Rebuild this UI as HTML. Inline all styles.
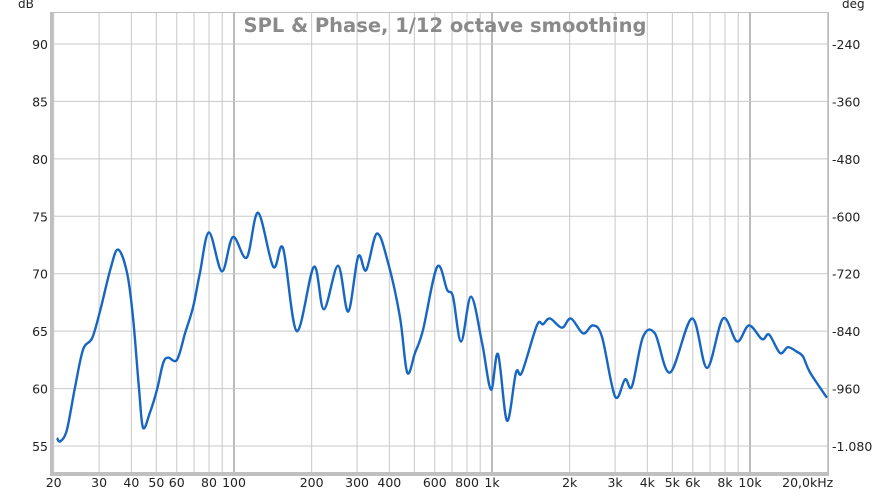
<!DOCTYPE html>
<html><head><meta charset="utf-8"><style>
body{margin:0;background:#fff;}
svg text{font-family:"DejaVu Sans","Liberation Sans",sans-serif;}
</style></head><body>
<svg id="chart" width="894" height="493" viewBox="0 0 894 493" xmlns="http://www.w3.org/2000/svg">
<rect x="0" y="0" width="894" height="493" fill="#fff"/>
<g id="grid"></g>
<g id="labels"></g>
<path id="curve" fill="none" stroke="#1766c2" stroke-width="2.4" stroke-linejoin="round"/>
<text x="445" y="32" text-anchor="middle" font-size="19.5" font-weight="bold" fill="#8a8a8a">SPL &amp; Phase, 1/12 octave smoothing</text>
<text x="18" y="8" font-size="12" fill="#222">dB</text>
<text x="842" y="8" font-size="12" fill="#222">deg</text>
</svg>
<script>
const freqs=[20.6,21.2,22.5,24.2,26.0,28.2,30.3,33.1,35.5,38.5,40.6,42.8,44.4,47.2,50.3,53.1,55.5,60.1,64.6,69.4,73.8,80,89.8,99,112,124,142,155,175,204,223,253,277,303,325,358,395,440,469,503,540,613,670,706,759,829,915,991,1055,1143,1239,1306,1493,1577,1679,1867,2023,2254,2460,2670,3000,3280,3490,3850,4280,4900,5960,6810,7860,8910,9910,11140,11860,13070,14030,15200,16040,17100,19870];
const spl=[55.7,55.4,56.4,60.1,63.4,64.4,66.8,70.3,72.1,70.1,66.2,60.1,56.6,57.9,59.9,62.2,62.7,62.5,64.8,67.1,70.1,73.6,70.2,73.2,71.4,75.3,70.6,72.2,65.0,70.6,66.9,70.7,66.7,71.5,70.3,73.5,71.0,66.2,61.4,63.1,65.1,70.6,68.6,68.0,64.1,68.0,64.0,59.9,63.0,57.2,61.4,61.4,65.5,65.6,66.1,65.3,66.1,64.8,65.5,64.5,59.3,60.8,60.2,64.5,64.8,61.4,66.1,61.8,66.1,64.1,65.5,64.3,64.7,63.1,63.6,63.2,62.8,61.4,59.2];
const dbTicks=[55,60,65,70,75,80,85,90];
const degTicks=["-1.080","-960","-840","-720","-600","-480","-360","-240"];
const xTicks=[20,30,40,50,60,80,100,200,300,400,600,800,1000,2000,3000,4000,5000,6000,8000,10000,20000];
const xTickLabels=["20","30","40","50","60","80","100","200","300","400","600","800","1k","2k","3k","4k","5k","6k","8k","10k","20,0kHz"];
const gridFreqs=[20,30,40,50,60,70,80,90,100,200,300,400,500,600,700,800,900,1000,2000,3000,4000,5000,6000,7000,8000,9000,10000,20000];
const L=54,R=828,T=13,B=472;
const X=f=>234+258*Math.log10(f/100);
const Y=d=>44+(90-d)*402/35;
const NS="http://www.w3.org/2000/svg";
const grid=document.getElementById('grid'),labels=document.getElementById('labels');
function mk(tag,at,parent){const e=document.createElementNS(NS,tag);for(const k in at)e.setAttribute(k,at[k]);parent.appendChild(e);return e;}
mk('rect',{x:L-4,y:T-1,width:R-L+5,height:B-T+5,fill:'#c0c0c0'},grid);
mk('rect',{x:L,y:T,width:R-L,height:B-T,fill:'#fff'},grid);
gridFreqs.forEach(f=>{
  const dec=(f===100||f===1000||f===10000);
  const l=mk('line',{x1:X(f),x2:X(f),y1:T,y2:B,stroke:dec?'#777':'#c8c8c8','stroke-width':1},grid);
  
  
});
dbTicks.forEach((d,i)=>{
  const l=mk('line',{x1:L,x2:R,y1:Y(d),y2:Y(d),stroke:'#c8c8c8','stroke-width':1},grid);
  
  
  const t=mk('text',{x:48,y:Y(d)+5,'text-anchor':'end','font-size':12.5,fill:'#222'},labels);
  t.textContent=d;
  
  
  const t2=mk('text',{x:832,y:Y(d)+5,'font-size':12.5,fill:'#222'},labels);
  t2.textContent=degTicks[i];
  
  
});
mk('line',{x1:R,x2:R,y1:T,y2:B,stroke:'#bbb'},grid);
xTicks.forEach((f,i)=>{
  const last=i===xTicks.length-1;
  const t=mk('text',{x:last?X(f)-20:X(f),y:487,'text-anchor':'middle','font-size':12.5,fill:'#222'},labels);
  t.textContent=xTickLabels[i];
  
  
});
const P=freqs.map((f,i)=>[X(f),Y(spl[i])]);
let d='M'+P[0][0].toFixed(1)+','+P[0][1].toFixed(1);
for(let i=0;i<P.length-1;i++){
  const p0=P[Math.max(0,i-1)],p1=P[i],p2=P[i+1],p3=P[Math.min(P.length-1,i+2)];
  const c1=[p1[0]+(p2[0]-p0[0])/6,p1[1]+(p2[1]-p0[1])/6];
  const c2=[p2[0]-(p3[0]-p1[0])/6,p2[1]-(p3[1]-p1[1])/6];
  d+=`C${c1[0].toFixed(1)},${c1[1].toFixed(1)} ${c2[0].toFixed(1)},${c2[1].toFixed(1)} ${p2[0].toFixed(1)},${p2[1].toFixed(1)}`;
}
document.getElementById('curve').setAttribute('d',d);
</script>
</body></html>
